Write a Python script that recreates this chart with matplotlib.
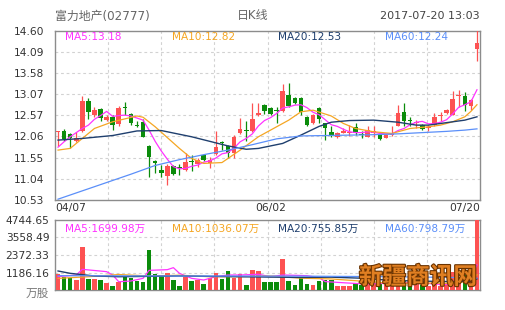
import matplotlib
matplotlib.use('Agg')
import matplotlib.pyplot as plt
import matplotlib.patheffects as pe
import numpy as np

plt.rcParams['font.family'] = ['DejaVu Sans', 'Noto Sans CJK SC']

# ---- daily candles, 04/07 .. 07/20 ----
opens = [12.16, 12.19, 12.12, 11.95, 12.20, 12.90, 12.58, 12.71, 12.46, 12.52,
         12.35, 12.77, 12.59, 12.33, 12.41, 11.83, 11.47, 11.25, 11.11, 11.34,
         11.30, 11.25, 11.46, 11.40, 11.61, 11.41, 11.63, 11.92, 11.83, 11.67,
         12.13, 12.21, 12.18, 12.57, 12.82, 12.75, 12.70, 12.66, 13.06, 12.99,
         12.98, 12.52, 12.37, 12.74, 12.37, 12.17, 12.05, 12.15, 12.14, 12.28,
         12.12, 12.05, 12.13, 12.11, 12.03, 12.10, 12.32, 12.65, 12.45, 12.38,
         12.34, 12.25, 12.33, 12.54, 12.62, 12.58, 13.04, 13.02, 12.78, 14.15]
highs = [12.19, 12.24, 12.14, 12.17, 13.03, 12.99, 12.77, 12.75, 12.57, 12.58,
         12.79, 12.88, 12.61, 12.43, 12.47, 11.85, 11.48, 11.37, 11.39, 11.37,
         11.39, 11.65, 11.61, 11.55, 11.62, 11.57, 12.19, 11.96, 11.85, 12.09,
         12.51, 12.42, 12.86, 12.85, 12.84, 12.77, 12.77, 13.32, 13.34, 13.00,
         13.00, 12.54, 12.59, 12.76, 12.39, 12.30, 12.17, 12.25, 12.33, 12.37,
         12.19, 12.31, 12.31, 12.13, 12.11, 12.30, 12.81, 12.85, 12.53, 12.45,
         12.36, 12.33, 12.62, 12.65, 12.71, 13.16, 13.18, 13.12, 12.95, 14.62]
lows = [11.82, 11.95, 11.79, 11.93, 12.17, 12.48, 12.53, 12.44, 12.44, 12.22,
        12.30, 12.57, 12.33, 12.29, 12.04, 11.09, 11.17, 11.09, 10.90, 11.13,
        11.13, 11.23, 11.23, 11.33, 11.47, 11.30, 11.62, 11.73, 11.55, 11.53,
        12.12, 11.94, 12.17, 12.55, 12.60, 12.57, 12.37, 12.64, 12.76, 12.84,
        12.58, 12.32, 12.36, 12.38, 11.97, 12.05, 12.03, 12.13, 12.08, 12.09,
        12.03, 12.04, 12.04, 11.97, 12.02, 12.08, 12.30, 12.31, 12.30, 12.26,
        12.21, 12.20, 12.31, 12.42, 12.60, 12.57, 12.77, 12.67, 12.69, 13.87]
closes = [12.19, 12.00, 12.03, 12.03, 12.92, 12.65, 12.70, 12.51, 12.53, 12.33,
          12.75, 12.75, 12.37, 12.32, 12.05, 11.57, 11.41, 11.18, 11.35, 11.16,
          11.29, 11.45, 11.45, 11.50, 11.49, 11.48, 11.80, 11.91, 11.66, 12.05,
          12.24, 12.19, 12.48, 12.61, 12.68, 12.59, 12.68, 13.14, 12.78, 12.86,
          12.65, 12.34, 12.57, 12.48, 12.25, 12.07, 12.15, 12.20, 12.17, 12.15,
          12.10, 12.21, 12.18, 12.00, 12.10, 12.12, 12.61, 12.43, 12.43, 12.40,
          12.24, 12.28, 12.52, 12.57, 12.69, 12.96, 13.06, 12.81, 12.93, 14.30]
volumes = [1063, 904, 836, 678, 2937, 746, 746, 678, 497, 271,
           520, 904, 836, 610, 520, 2711, 1063, 1017, 1175, 678,
           271, 904, 610, 678, 429, 791, 1130, 746, 1288, 791,
           1063, 339, 1356, 1288, 565, 565, 565, 2101, 610, 339,
           858, 384, 339, 610, 655, 655, 271, 271, 271, 452,
           350, 450, 400, 520, 380, 450, 700, 600, 400, 506,
           350, 300, 450, 300, 461, 1200, 850, 1000, 705, 4744.65]

# moving averages
ma5 = [11.80, 11.93, 12.05, 12.15, 12.25, 12.33, 12.47, 12.56, 12.66, 12.54,
       12.56, 12.57, 12.55, 12.50, 12.45, 12.21, 11.94, 11.71, 11.51, 11.33,
       11.28, 11.29, 11.34, 11.37, 11.44, 11.47, 11.54, 11.64, 11.67, 11.78,
       11.93, 12.01, 12.12, 12.31, 12.44, 12.51, 12.61, 12.74, 12.77, 12.81,
       12.82, 12.75, 12.64, 12.58, 12.46, 12.34, 12.30, 12.23, 12.17, 12.15,
       12.15, 12.17, 12.16, 12.13, 12.12, 12.12, 12.20, 12.25, 12.34, 12.40,
       12.42, 12.36, 12.37, 12.40, 12.46, 12.60, 12.76, 12.82, 12.89, 13.18]
ma10_idx = [0, 2, 4, 6, 9, 13, 14, 16, 18, 20, 22, 24, 27, 28, 30, 33, 36, 38,
            40, 42, 45, 47, 49, 52, 55, 58, 61, 63, 65, 67, 68, 69]
ma10 = [11.73, 11.77, 12.01, 12.25, 12.41, 12.55, 12.52, 12.29, 12.03, 11.77,
        11.53, 11.41, 11.43, 11.53, 11.73, 12.05, 12.29, 12.45, 12.65, 12.69,
        12.55, 12.37, 12.25, 12.17, 12.13, 12.25, 12.29, 12.33, 12.41, 12.53,
        12.66, 12.82]
ma20_idx = [0, 4, 9, 13, 17, 22, 28, 31, 33, 37, 40, 43, 45, 48, 52, 56, 59,
            61, 65, 67, 69]
ma20 = [11.97, 12.01, 12.08, 12.19, 12.20, 12.05, 11.83, 11.75, 11.77, 11.89,
        12.09, 12.30, 12.40, 12.44, 12.45, 12.40, 12.33, 12.33, 12.41, 12.45,
        12.53]
ma60_idx = [0, 4, 8, 12, 16, 20, 24, 28, 32, 36, 40, 44, 48, 52, 56, 60, 64, 67, 69]
ma60 = [10.55, 10.75, 10.95, 11.15, 11.36, 11.50, 11.62, 11.73, 11.86, 12.00,
        12.07, 12.08, 12.09, 12.10, 12.12, 12.15, 12.18, 12.21, 12.24]

vma5_idx = [0, 3, 4, 8, 9, 10, 12, 14, 15, 18, 19, 20, 22, 24, 26, 28, 30, 33,
            35, 37, 41, 43, 44, 47, 50, 53, 56, 59, 62, 64, 65, 66, 68, 69]
vma5 = [904, 1017, 1401, 1243, 1017, 560, 610, 791, 1333, 1378, 1514, 1130,
        791, 678, 904, 1017, 1017, 1063, 904, 1017, 971, 836, 569, 492, 420,
        434, 490, 531, 401, 372, 542, 652, 843, 1699.98]
vma10_idx = [0, 5, 10, 15, 20, 25, 30, 35, 40, 45, 50, 55, 60, 65, 68, 69]
vma10 = [790, 900, 1050, 950, 1000, 900, 900, 950, 800, 750, 600, 450, 480,
         450, 612, 1036.07]
vma20_idx = [0, 2, 6, 10, 20, 30, 40, 45, 50, 55, 60, 65, 68, 69]
vma20 = [1288, 1130, 950, 900, 950, 900, 850, 870, 800, 650, 600, 570, 590, 755.85]
vma60_idx = [0, 20, 40, 55, 65, 69]
vma60 = [970, 950, 940, 900, 850, 798.79]

price_ticks = [10.53, 11.04, 11.55, 12.06, 12.57, 13.07, 13.58, 14.09, 14.60]
vol_ticks = [1186.16, 2372.33, 3558.49, 4744.65]
date_labels = ['04/07', '06/02', '07/20']
date_idx = [0, 35, 69]

RED = '#fd5252'
GREEN = '#0b8c0b'
C5, C10, C20, C60 = '#ff33ff', '#f5a623', '#1f3f6e', '#5b8ff9'
GRID = '#d2d2d2'
SPINE = '#8c8c8c'

W, H = 505, 310
fig = plt.figure(figsize=(W / 100, H / 100), dpi=100)


def fx(px):
    return px / W


def fy(py):
    return 1 - py / H


ax = fig.add_axes([fx(55), fy(200), fx(480) - fx(55), fy(30.7) - fy(200)])
axv = fig.add_axes([fx(55), fy(290), fx(480) - fx(55), fy(220) - fy(290)])

n = len(closes)
x = np.arange(n)
o, h, l, c = (np.array(a) for a in (opens, highs, lows, closes))
cols = np.where(c >= o, RED, GREEN)

# candles
ax.vlines(x, l, h, colors=cols, lw=0.9, zorder=3)
ax.bar(x, np.maximum(np.abs(c - o), 0.025), bottom=np.minimum(o, c),
       width=0.76, color=cols, linewidth=0, zorder=3)

ax.plot(x, ma5, color=C5, lw=0.9, zorder=4)
ax.plot(ma10_idx, ma10, color=C10, lw=0.9, zorder=4)
ax.plot(ma20_idx, ma20, color=C20, lw=1.0, zorder=4)
ax.plot(ma60_idx, ma60, color=C60, lw=0.9, zorder=4)

# volume
axv.bar(x, volumes, width=0.76, color=cols, linewidth=0, zorder=3)
axv.plot(vma5_idx, vma5, color=C5, lw=0.9, zorder=4)
axv.plot(vma10_idx, vma10, color=C10, lw=0.9, zorder=4)
axv.plot(vma20_idx, vma20, color=C20, lw=1.0, zorder=4)
axv.plot(vma60_idx, vma60, color=C60, lw=0.9, zorder=4)

for a in (ax, axv):
    a.set_xlim(-0.5, n - 0.5)
    a.set_xticks([])
    for k in range(1, 8):
        a.axvline(-0.5 + k * n / 8, color=GRID, lw=0.8, ls=(0, (2.5, 2.5)), zorder=1)
    for s in a.spines.values():
        s.set_color(SPINE)
        s.set_linewidth(1)

ax.set_ylim(price_ticks[0], price_ticks[-1])
ax.set_yticks(price_ticks)
ax.set_yticklabels(['%.2f' % t for t in price_ticks])
ax.tick_params(axis='y', length=0, pad=8, labelsize=7.7, labelcolor='#333333')
for t in price_ticks[1:-1]:
    ax.axhline(t, color=GRID, lw=0.8, ls=(0, (2.5, 2.5)), zorder=1)

axv.set_ylim(0, vol_ticks[-1])
axv.set_yticks(vol_ticks)
axv.set_yticklabels(['%.2f' % t for t in vol_ticks])
axv.tick_params(axis='y', length=0, pad=4, labelsize=7.7, labelcolor='#333333')
for t in vol_ticks[:-1]:
    axv.axhline(t, color=GRID, lw=0.8, ls=(0, (2.5, 2.5)), zorder=1)

# date labels under price panel
trans = ax.get_xaxis_transform()
ax.text(date_idx[0] - 0.5, -0.045, date_labels[0], transform=trans, ha='left',
        va='center', fontsize=7.7, color='#333333')
ax.text(date_idx[1], -0.045, date_labels[1], transform=trans, ha='center',
        va='center', fontsize=7.7, color='#333333')
ax.text(date_idx[2] + 0.5, -0.045, date_labels[2], transform=trans, ha='right',
        va='center', fontsize=7.7, color='#333333')

# header
fig.text(fx(55), fy(16), '富力地产(02777)', fontsize=8.6, color='#666666', va='center')
fig.text(fx(253), fy(16), '日K线', fontsize=8.6, color='#666666', va='center', ha='center')
fig.text(fx(480), fy(16), '2017-07-20 13:03', fontsize=8, color='#444444',
         va='center', ha='right')

# MA legends
leg_x = [65, 172, 278, 385]
price_leg = ['MA5:13.18', 'MA10:12.82', 'MA20:12.53', 'MA60:12.24']
vol_leg = ['MA5:1699.98万', 'MA10:1036.07万', 'MA20:755.85万', 'MA60:798.79万']
for px, t1, t2, col in zip(leg_x, price_leg, vol_leg, [C5, C10, C20, C60]):
    fig.text(fx(px), fy(37), t1, color=col, fontsize=7.6, va='center')
    fig.text(fx(px), fy(229), t2, color=col, fontsize=7.6, va='center')

fig.text(fx(49), fy(293), '万股', fontsize=8.4, color='#777777', va='center', ha='right')

# watermark
fig.text(fx(418), fy(277), '新疆商讯网', fontsize=17, color='#e07f22',
         fontweight='heavy', ha='center', va='center', family=['Noto Sans CJK SC'],
         zorder=10, path_effects=[pe.Stroke(linewidth=1.6, foreground='#6b3300'),
                                  pe.Normal()])

fig.savefig('out.png', dpi=100)
